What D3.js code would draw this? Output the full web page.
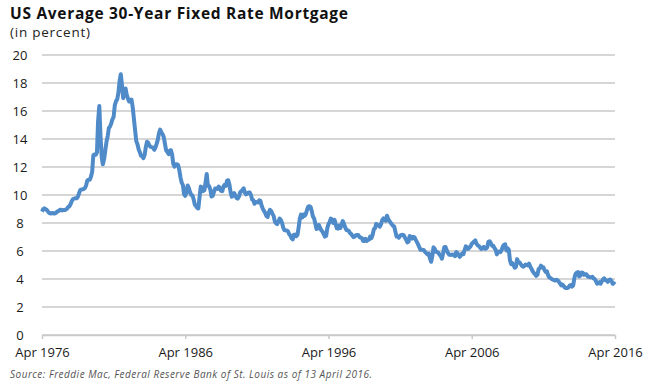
<!DOCTYPE html>
<html>
<head>
<meta charset="utf-8">
<script src="https://cdn.jsdelivr.net/npm/d3@7"></script>
<style>
  body { margin: 0; background: #fff; }
  text { font-family: "Open Sans", "DejaVu Sans", sans-serif; }
</style>
</head>
<body>
<svg id="chart"></svg>
<script>
// first month of the series and monthly average rates (percent)
const startMonth = '1976-04';
const rates = [
  // 1976 (Apr-Dec)
  8.82, 8.99, 9.05, 8.99, 8.93, 8.82, 8.72, 8.68, 8.70,
  // 1977
  8.72, 8.67, 8.69, 8.75, 8.83, 8.86, 8.94, 8.94, 8.90, 8.92, 8.92, 8.96,
  // 1978
  9.02, 9.15, 9.20, 9.35, 9.57, 9.71, 9.74, 9.77, 9.76, 9.86, 10.11, 10.35,
  // 1979
  10.39, 10.41, 10.43, 10.50, 10.69, 11.04, 11.09, 11.09, 11.30, 11.64, 12.83, 12.90,
  // 1980
  12.88, 13.04, 15.28, 16.35, 14.26, 12.71, 12.19, 12.56, 13.20, 13.79, 14.21, 14.79,
  // 1981
  14.90, 15.13, 15.40, 15.58, 16.40, 16.70, 16.83, 17.29, 18.16, 18.63, 17.83, 16.92,
  // 1982
  17.40, 17.60, 17.16, 16.89, 16.68, 16.70, 16.82, 16.27, 15.43, 14.61, 13.83, 13.62,
  // 1983
  13.25, 13.04, 12.80, 12.78, 12.63, 12.87, 13.42, 13.81, 13.73, 13.54, 13.44, 13.42,
  // 1984
  13.37, 13.23, 13.39, 13.65, 13.94, 14.42, 14.67, 14.47, 14.35, 14.13, 13.64, 13.18,
  // 1985
  13.08, 12.92, 13.17, 13.20, 12.91, 12.22, 12.03, 12.19, 12.19, 12.14, 11.78, 11.26,
  // 1986
  10.88, 10.71, 10.08, 9.94, 10.14, 10.68, 10.51, 10.20, 10.01, 9.98, 9.70, 9.32,
  // 1987
  9.20, 9.08, 9.04, 9.83, 10.60, 10.54, 10.28, 10.33, 10.89, 11.50, 10.65, 10.64,
  // 1988
  10.38, 9.89, 9.93, 10.20, 10.46, 10.46, 10.43, 10.60, 10.48, 10.30, 10.27, 10.61,
  // 1989
  10.73, 10.65, 11.03, 11.05, 10.77, 10.20, 9.88, 9.99, 10.13, 9.95, 9.77, 9.74,
  // 1990
  9.90, 10.20, 10.27, 10.37, 10.48, 10.16, 10.04, 10.10, 10.18, 10.18, 10.01, 9.67,
  // 1991
  9.64, 9.37, 9.50, 9.49, 9.47, 9.62, 9.58, 9.24, 9.01, 8.86, 8.71, 8.50,
  // 1992
  8.43, 8.76, 8.94, 8.85, 8.67, 8.51, 8.13, 7.98, 7.92, 8.09, 8.31, 8.22,
  // 1993
  8.02, 7.68, 7.50, 7.47, 7.47, 7.42, 7.21, 7.11, 6.92, 6.83, 7.16, 7.17,
  // 1994
  7.06, 7.15, 7.68, 8.32, 8.60, 8.40, 8.61, 8.51, 8.64, 8.93, 9.17, 9.20,
  // 1995
  9.15, 8.83, 8.46, 8.32, 7.96, 7.57, 7.61, 7.86, 7.64, 7.48, 7.38, 7.20,
  // 1996
  7.03, 7.08, 7.62, 7.93, 8.07, 8.32, 8.25, 8.00, 8.23, 7.92, 7.62, 7.60,
  // 1997
  7.82, 7.65, 7.90, 8.14, 7.94, 7.69, 7.50, 7.48, 7.43, 7.29, 7.21, 7.10,
  // 1998
  6.99, 7.04, 7.13, 7.14, 7.14, 7.00, 6.95, 6.92, 6.72, 6.71, 6.87, 6.72,
  // 1999
  6.79, 6.81, 7.04, 6.92, 7.15, 7.55, 7.63, 7.94, 7.82, 7.85, 7.74, 7.91,
  // 2000
  8.21, 8.33, 8.24, 8.15, 8.52, 8.29, 8.15, 8.03, 7.91, 7.80, 7.75, 7.38,
  // 2001
  7.03, 7.05, 6.95, 7.08, 7.15, 7.16, 7.13, 6.95, 6.82, 6.62, 6.66, 7.07,
  // 2002
  7.00, 6.89, 7.01, 6.99, 6.81, 6.65, 6.49, 6.29, 6.09, 6.11, 6.07, 6.05,
  // 2003
  5.92, 5.84, 5.75, 5.81, 5.48, 5.23, 5.63, 6.26, 6.15, 5.95, 5.93, 5.88,
  // 2004
  5.74, 5.64, 5.45, 5.83, 6.27, 6.29, 6.06, 5.87, 5.75, 5.72, 5.73, 5.75,
  // 2005
  5.71, 5.63, 5.93, 5.86, 5.72, 5.58, 5.70, 5.82, 5.77, 6.07, 6.33, 6.27,
  // 2006
  6.15, 6.25, 6.32, 6.51, 6.60, 6.68, 6.76, 6.52, 6.40, 6.36, 6.24, 6.14,
  // 2007
  6.22, 6.29, 6.16, 6.18, 6.26, 6.66, 6.70, 6.57, 6.38, 6.38, 6.21, 6.10,
  // 2008
  5.76, 5.92, 5.97, 5.92, 6.04, 6.32, 6.43, 6.48, 6.04, 6.20, 6.09, 5.33,
  // 2009
  5.06, 5.13, 5.00, 4.81, 4.86, 5.42, 5.22, 5.19, 5.06, 4.95, 4.88, 4.93,
  // 2010
  5.03, 4.99, 4.97, 5.10, 4.89, 4.74, 4.56, 4.43, 4.35, 4.23, 4.30, 4.71,
  // 2011
  4.76, 4.95, 4.84, 4.84, 4.64, 4.51, 4.55, 4.27, 4.11, 4.07, 3.99, 3.96,
  // 2012
  3.92, 3.89, 3.95, 3.91, 3.80, 3.68, 3.55, 3.60, 3.50, 3.38, 3.35, 3.35,
  // 2013
  3.41, 3.53, 3.57, 3.45, 3.54, 4.07, 4.37, 4.46, 4.49, 4.19, 4.26, 4.46,
  // 2014
  4.43, 4.30, 4.34, 4.34, 4.19, 4.16, 4.13, 4.12, 4.16, 4.04, 4.00, 3.86,
  // 2015
  3.67, 3.71, 3.77, 3.67, 3.84, 3.98, 4.05, 3.91, 3.89, 3.80, 3.94, 3.96,
  // 2016 (Jan-Apr)
  3.87, 3.66, 3.69, 3.61
];
const yTicks = [0, 2, 4, 6, 8, 10, 12, 14, 16, 18, 20];
const xTickLabels = ['Apr 1976', 'Apr 1986', 'Apr 1996', 'Apr 2006', 'Apr 2016'];

const width = 654, height = 388;
const margin = { left: 42, right: 39, top: 55, bottom: 53 };

const svg = d3.select('#chart').attr('width', width).attr('height', height);

const parseMonth = d3.timeParse('%Y-%m');
const parseTick = d3.timeParse('%b %Y');
const start = parseMonth(startMonth);
const data = rates.map((v, i) => ({ date: d3.timeMonth.offset(start, i), value: v }));

const x = d3.scaleTime()
    .domain([parseTick(xTickLabels[0]), parseTick(xTickLabels[xTickLabels.length - 1])])
    .range([margin.left, width - margin.right]);
const y = d3.scaleLinear()
    .domain([0, 20])
    .range([height - margin.bottom, margin.top]);

// gridlines
svg.append('g')
    .selectAll('line')
    .data(yTicks)
    .enter()
    .append('line')
    .attr('x1', margin.left)
    .attr('x2', width - margin.right)
    .attr('y1', d => y(d))
    .attr('y2', d => y(d))
    .attr('stroke', '#c9c9c9')
    .attr('stroke-width', 1.5);

// y labels
svg.append('g')
    .selectAll('text')
    .data(yTicks)
    .enter()
    .append('text')
    .attr('x', 20)
    .attr('y', d => y(d))
    .attr('dy', '0.36em')
    .attr('text-anchor', 'middle')
    .attr('font-size', 13)
    .attr('fill', '#1a1a1a')
    .text(d => d);

// x axis ticks and labels
const xAxis = d3.axisBottom(x)
    .tickValues(xTickLabels.map(parseTick))
    .tickFormat(d3.timeFormat('%b %Y'))
    .tickSize(4)
    .tickSizeOuter(0);
const gx = svg.append('g')
    .attr('transform', `translate(0,${y(0)})`)
    .call(xAxis);
gx.select('.domain').attr('stroke', '#c9c9c9').attr('stroke-width', 1.5);
gx.selectAll('.tick line').attr('stroke', '#c9c9c9').attr('stroke-width', 1.5);
gx.selectAll('.tick text')
    .attr('font-size', 13)
    .attr('font-family', '"Open Sans", sans-serif')
    .attr('fill', '#1a1a1a')
    .attr('dy', '1.17em');

// rate line
const line = d3.line()
    .x(d => x(d.date))
    .y(d => y(d.value));
svg.append('path')
    .datum(data)
    .attr('d', line)
    .attr('fill', 'none')
    .attr('stroke', '#4f8ac9')
    .attr('stroke-width', 4)
    .attr('stroke-linejoin', 'round');

// titles (reference font is wider, so stretch spacing to the same widths)
svg.append('text')
    .attr('x', 10)
    .attr('y', 19)
    .attr('font-size', 15.5)
    .attr('font-weight', 'bold')
    .attr('fill', '#111')
    .attr('textLength', 338)
    .attr('lengthAdjust', 'spacing')
    .text('US Average 30-Year Fixed Rate Mortgage');
svg.append('text')
    .attr('x', 10)
    .attr('y', 37)
    .attr('font-size', 13.5)
    .attr('fill', '#222')
    .attr('textLength', 80)
    .attr('lengthAdjust', 'spacing')
    .text('(in percent)');
svg.append('text')
    .attr('x', 10)
    .attr('y', 378)
    .attr('font-size', 10)
    .attr('font-style', 'italic')
    .attr('fill', '#555')
    .attr('textLength', 362)
    .attr('lengthAdjust', 'spacing')
    .text('Source: Freddie Mac, Federal Reserve Bank of St. Louis as of 13 April 2016.');
</script>
</body>
</html>
